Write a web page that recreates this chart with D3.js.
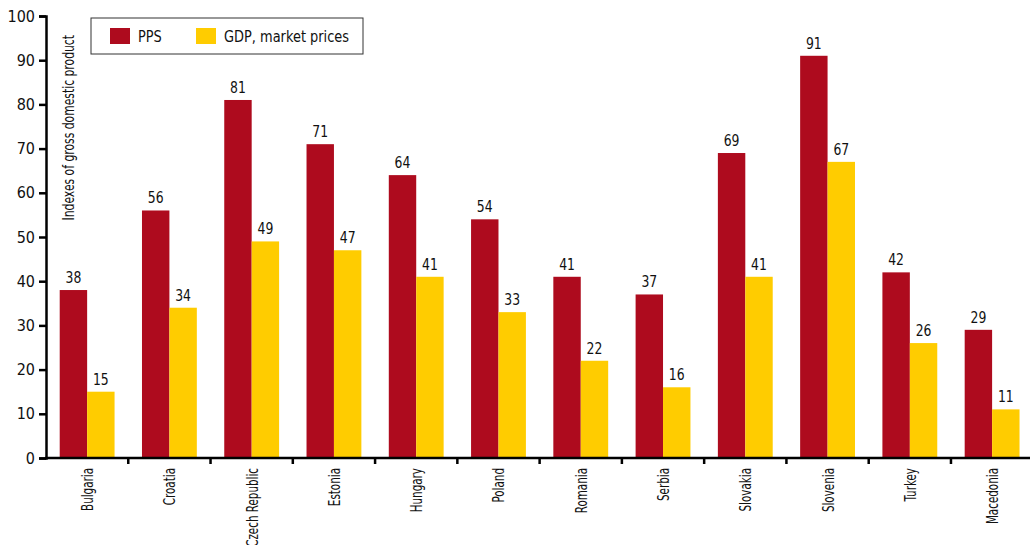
<!DOCTYPE html>
<html>
<head>
<meta charset="utf-8">
<script src="https://cdn.jsdelivr.net/npm/d3@7"></script>
<style>
  html, body { margin: 0; padding: 0; background: #fff; }
  svg { display: block; }
  text { font-family: "DejaVu Sans Condensed", "Liberation Sans Narrow", "Roboto", sans-serif; fill: #111; }
</style>
</head>
<body>
<svg id="chart" width="1030" height="545"></svg>
<script>
// GDP per capita indexes by country
const countries = ["Bulgaria", "Croatia", "Czech Republic", "Estonia", "Hungary", "Poland",
                   "Romania", "Serbia", "Slovakia", "Slovenia", "Turkey", "Macedonia"];
const pps = [38, 56, 81, 71, 64, 54, 41, 37, 69, 91, 42, 29];
const gdpMarket = [15, 34, 49, 47, 41, 33, 22, 16, 41, 67, 26, 11];
const seriesNames = ["PPS", "GDP, market prices"];
const seriesColors = ["#AE0B1E", "#FFCC00"];
const yTicks = [0, 10, 20, 30, 40, 50, 60, 70, 80, 90, 100];
const yTitle = "Indexes of gross domestic product";

const svg = d3.select("#chart");
const plotLeft = 46, plotTop = 16, plotBottom = 458;
const bandW = 82.27;
const plotRight = plotLeft + bandW * countries.length;

const x = d3.scaleBand().domain(countries).range([plotLeft, plotRight]).paddingInner(0).paddingOuter(0);
const inner = d3.scaleBand().domain([0, 1]).range([0, x.bandwidth()]).paddingInner(0).paddingOuter(0.5);
const y = d3.scaleLinear().domain([0, 100]).range([plotBottom, plotTop]);

const rows = countries.map((c, i) => ({ c, vals: [pps[i], gdpMarket[i]] }));

const g = svg.append("g");
const groups = g.selectAll("g.grp").data(rows).join("g")
  .attr("transform", d => `translate(${x(d.c)},0)`);

groups.selectAll("rect").data(d => d.vals.map((v, k) => ({ v, k }))).join("rect")
  .attr("x", d => inner(d.k))
  .attr("width", inner.bandwidth())
  .attr("y", d => y(d.v))
  .attr("height", d => y(0) - y(d.v))
  .attr("fill", d => seriesColors[d.k]);

groups.selectAll("text.val").data(d => d.vals.map((v, k) => ({ v, k }))).join("text")
  .attr("class", "val")
  .attr("transform", d => `translate(${inner(d.k) + inner.bandwidth() / 2},${y(d.v) - 7}) scale(0.92,1)`)
  .attr("text-anchor", "middle")
  .style("font-size", "15px")
  .text(d => d.v);

// Y axis
const yAxis = g.append("g").attr("transform", `translate(${plotLeft},0)`)
  .call(d3.axisLeft(y).tickValues(yTicks).tickSize(7).tickPadding(4));
yAxis.select(".domain").attr("stroke", "#000").attr("stroke-width", 2.5);
yAxis.selectAll(".tick line").attr("stroke", "#000").attr("stroke-width", 2.5);
yAxis.selectAll(".tick text").style("font-size", "16px").attr("fill", "#111")
  .style("font-family", "\"DejaVu Sans Condensed\", sans-serif");

// X axis: ticks sit on the group boundaries
const bounds = d3.range(countries.length + 1).map(i => plotLeft + i * bandW);
const xAxisG = g.append("g");
xAxisG.append("line")
  .attr("x1", plotLeft - 1).attr("x2", 1030).attr("y1", plotBottom).attr("y2", plotBottom)
  .attr("stroke", "#000").attr("stroke-width", 2.5);
xAxisG.selectAll("line.tk").data(bounds.slice(1)).join("line")
  .attr("class", "tk")
  .attr("x1", d => d).attr("x2", d => d)
  .attr("y1", plotBottom).attr("y2", plotBottom + 6)
  .attr("stroke", "#000").attr("stroke-width", 2.5);
xAxisG.selectAll("text").data(countries).join("text")
  .attr("transform", d => `translate(${x(d) + x.bandwidth() / 2 + 6},${plotBottom + 10}) rotate(-90) scale(0.72,1)`)
  .attr("text-anchor", "end")
  .style("font-size", "16px")
  .text(d => d);

// Y axis title
g.append("text")
  .attr("transform", `translate(74,${plotTop + 19}) rotate(-90) scale(0.8,1)`)
  .attr("text-anchor", "end")
  .style("font-size", "15px")
  .text(yTitle);

// Legend
const leg = g.append("g");
leg.append("rect").attr("x", 91).attr("y", 18).attr("width", 272).attr("height", 36)
  .attr("fill", "#fff").attr("stroke", "#333").attr("stroke-width", 1);
const legX = [110, 196];
seriesNames.forEach((n, k) => {
  leg.append("rect").attr("x", legX[k]).attr("y", 28).attr("width", 20).attr("height", 16)
    .attr("fill", seriesColors[k]);
  leg.append("text").attr("transform", `translate(${legX[k] + 28},42) scale(0.9,1)`)
    .style("font-size", "16px").text(n);
});
</script>
</body>
</html>
